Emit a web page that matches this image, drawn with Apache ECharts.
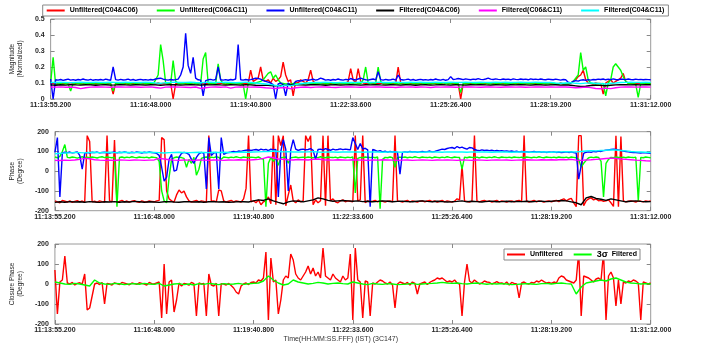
<!DOCTYPE html>
<html>
<head>
<meta charset="utf-8">
<script src="https://cdn.jsdelivr.net/npm/echarts@6/dist/echarts.min.js"></script>
<style>
html,body{margin:0;padding:0;background:#fff}
#main{width:707px;height:347px}
</style>
</head>
<body>
<div id="main"></div>
<script>
// x runs in sample steps of 4.32 s from 11:13:55.200 (0..240); filtered traces are sampled every 2 steps
var tickLabels = ['11:13:55.200', '11:16:48.000', '11:19:40.800', '11:22:33.600',
                  '11:25:26.400', '11:28:19.200', '11:31:12.000'];

// ---- magnitude, unfiltered (241 samples)
var magRed = [
  .095,.098,.092,.096,.1,.094,.098,.095,.092,.097,.095,.098,.094,.096,.1,.095,.092,.098,.095,.097,
  .1,.094,.098,.096,.095,.03,.1,.094,.098,.095,.096,.092,.098,.095,.1,.094,.096,.098,.095,.1,
  .096,.098,.094,.1,.095,.098,.096,.094,.1,0,.095,.098,.094,.1,.096,.098,.095,.092,.098,.095,
  .1,.094,.096,.098,.095,.1,.094,.096,.098,.095,.092,.098,.095,.1,.094,.096,.098,.095,.1,.096,
  .18,.11,.12,.13,.2,.12,.11,.12,.1,.13,.11,.12,.14,.23,.15,.11,.12,.02,.11,.1,
  .12,.11,.1,.12,.18,.11,.1,.095,.1,.098,.094,.1,.096,.098,.095,.1,.094,.096,.098,.11,
  .19,.12,.1,.19,.11,.1,.098,.094,.1,.096,.098,.095,.1,.094,.096,.098,.095,.1,.094,.2,
  .1,.096,.098,.094,.1,.095,.098,.096,.094,.1,.095,.098,.094,.1,.096,.098,.095,.092,.098,.095,
  .1,.094,.098,.096,0,.095,.1,.094,.098,.095,.096,.092,.098,.095,.1,.094,.096,.098,.095,.1,
  .096,.098,.094,.1,.095,.098,.096,.094,.1,.095,.098,.094,.1,.096,.098,.095,.092,.098,.095,.1,
  .094,.098,.096,.095,.1,.094,.098,.095,.1,.11,.12,.14,.15,.18,.12,.1,.098,.094,.1,.096,
  .098,.03,.1,.11,.12,.1,.11,.12,.13,.16,.11,.1,.098,.094,.1,.096,.098,.095,.1,.096,.098];
var magGreen = [
  .1,.26,.09,.095,.098,.092,.096,.094,.05,.097,.093,.098,.095,.092,.096,.099,.094,.097,.093,.096,
  .098,.094,.096,.093,.097,.05,.095,.098,.094,.096,.093,.097,.095,.092,.098,.094,.096,.093,.097,.095,
  .098,.094,.12,.15,.34,.24,.1,.096,.093,.24,.11,.098,.094,.096,.093,.097,.095,.092,.098,.094,
  .096,.25,.29,.1,.094,.097,.095,.22,.12,.096,.093,.098,.094,.096,.093,.097,.095,.092,0,.096,
  .095,.098,.1,.105,.11,.12,.14,.16,.17,.13,.15,.12,.1,.098,.094,.096,.093,.097,.095,.092,
  .098,.094,.096,.093,.097,.095,.098,.094,.096,.093,.097,.095,.092,.098,.094,.096,.093,.097,.095,.098,
  .094,.096,.093,.097,.095,.12,.2,.1,.096,.093,.098,.2,.11,.096,.093,.097,.095,.092,.098,.094,
  .096,.093,.097,.095,.092,.098,.094,.096,.093,.097,.095,.098,.094,.096,.093,.097,.095,.092,.098,.094,
  .096,.093,.097,.095,.04,.098,.094,.096,.093,.097,.095,.098,.094,.096,.093,.097,.095,.092,.098,.094,
  .096,.093,.097,.095,.098,.094,.096,.093,.097,.095,.092,.098,.094,.096,.093,.097,.095,.098,.094,.096,
  .093,.097,.095,.092,.098,.094,.096,.093,.1,.11,.13,.15,.29,.18,.2,.12,.1,.096,.093,.097,
  .095,.098,.02,.1,.12,.2,.22,.2,.18,.14,.11,.098,.094,.096,.093,.01,.095,.098,.094,.096,.095];
var magBlue = [
  .125,0,.12,.118,.122,.116,.12,.124,.118,.121,.117,.122,.119,.125,.12,.118,.123,.117,.121,.119,
  .122,.118,.124,.12,.117,.2,.121,.118,.123,.119,.12,.124,.118,.122,.116,.12,.123,.119,.121,.118,
  .122,.119,.125,.128,.13,.124,.12,.118,.122,.119,.121,.124,.15,.2,.41,.21,.16,.26,.13,.12,
  .118,.02,.115,.12,.123,.118,.122,.2,.12,.118,.121,.117,.122,.119,.125,.34,.12,.118,.122,.119,
  .121,.125,.13,.128,.124,.115,.11,.105,.1,.09,0,.095,.1,.09,.02,.1,.085,.09,.11,.115,
  .112,.118,.121,.117,.12,.124,.118,.122,.13,.125,.118,.121,.117,.122,.119,.125,.12,.118,.123,.12,
  .128,.122,.119,.125,.13,.124,.12,.118,.122,.125,.119,.17,.121,.118,.123,.119,.12,.124,.118,.15,
  .122,.119,.121,.124,.118,.122,.116,.12,.123,.119,.121,.118,.122,.119,.125,.12,.118,.123,.117,.121,
  .14,.122,.124,.128,.125,.121,.126,.123,.12,.124,.122,.127,.123,.121,.125,.13,.124,.122,.126,.123,
  .121,.125,.122,.124,.12,.126,.123,.121,.125,.122,.124,.12,.126,.122,.124,.121,.125,.122,.12,.124,
  .122,.12,.124,.121,.118,.122,.12,.105,.1,.11,.115,.112,.118,.12,.116,.121,.118,.122,.12,.124,
  .122,.125,.12,.124,.121,.126,.122,.12,.124,.123,.121,.125,.122,.12,.124,.121,.123,.12,.122,.121,.12];
// ---- magnitude, filtered (121 samples)
var magBlack = [
  .088,.086,.089,.087,.09,.088,.087,.089,.088,.086,.088,.089,.087,.088,.09,.088,.087,.089,.088,.087,
  .089,.088,.086,.088,.09,.089,.087,.088,.089,.088,.087,.089,.088,.09,.088,.087,.089,.088,.087,.089,
  .088,.086,.085,.087,.084,.082,.085,.088,.087,.089,.088,.087,.089,.09,.088,.086,.088,.089,.087,.088,
  .089,.088,.087,.089,.088,.09,.088,.087,.089,.088,.087,.089,.088,.086,.088,.089,.087,.088,.09,.088,
  .087,.089,.088,.087,.089,.088,.09,.088,.087,.089,.088,.087,.089,.088,.09,.088,.087,.089,.088,.087,
  .088,.089,.087,.088,.086,.082,.078,.08,.084,.086,.085,.083,.086,.088,.089,.09,.088,.089,.088,.09,.089];
var magMagenta = [
  .075,.074,.076,.073,.075,.072,.065,.07,.074,.076,.075,.074,.073,.076,.075,.074,.076,.075,.073,.074,
  .076,.072,.068,.074,.075,.076,.074,.073,.072,.075,.066,.07,.074,.075,.073,.076,.068,.074,.075,.076,
  .074,.075,.073,.07,.068,.066,.07,.072,.064,.07,.073,.075,.072,.074,.076,.075,.073,.072,.074,.075,
  .076,.074,.073,.075,.074,.076,.075,.073,.074,.072,.075,.074,.076,.073,.075,.074,.072,.075,.074,.076,
  .075,.073,.074,.076,.075,.074,.073,.075,.076,.074,.073,.075,.076,.074,.075,.073,.074,.076,.075,.074,
  .075,.074,.076,.075,.073,.07,.072,.074,.071,.066,.064,.068,.065,.07,.074,.076,.075,.074,.076,.075,.074];
var magCyan = [
  .104,.103,.105,.104,.102,.104,.105,.103,.104,.105,.104,.103,.105,.104,.103,.105,.104,.104,.103,.105,
  .104,.1,.098,.102,.104,.105,.103,.104,.105,.103,.102,.104,.105,.103,.104,.105,.104,.102,.104,.105,
  .103,.1,.097,.094,.09,.085,.08,.088,.082,.09,.095,.1,.102,.104,.103,.105,.104,.102,.104,.103,
  .104,.103,.105,.104,.103,.104,.105,.103,.104,.105,.104,.103,.105,.104,.105,.103,.104,.105,.104,.103,
  .105,.104,.103,.105,.104,.103,.105,.104,.103,.105,.104,.105,.103,.104,.105,.103,.104,.105,.104,.103,
  .104,.1,.098,.1,.102,.098,.096,.099,.1,.098,.096,.094,.098,.1,.103,.104,.105,.104,.103,.105,.104];

// ---- phase, unfiltered (241 samples)
var phRed = [
  -150,-155,-160,-148,-152,-156,-150,-158,-153,-149,-155,-151,-157,180,150,-155,-152,-158,-150,-154,
  -156,180,-150,-155,158,-160,-153,-148,-155,-151,-157,-152,-149,-155,-158,-150,-154,-156,-151,-153,
  -155,-150,-148,170,160,-100,-140,-150,-156,-120,-95,-110,-100,-130,-150,-156,-152,-148,-155,-150,
  -153,-157,180,-152,-150,-155,-95,-100,-150,-156,-152,-148,-155,-150,-153,-157,-140,-87,180,-155,
  -150,-160,-145,-170,-155,-150,-130,-165,180,-170,180,130,180,-175,-120,-70,-150,-160,-145,-155,
  -150,180,150,180,-170,-145,-160,-150,180,-175,180,-150,-140,-155,-160,-150,-145,-155,-150,-152,
  -155,180,-150,-145,180,-160,-150,-155,-152,-148,-155,-150,-153,-157,-152,-150,-155,180,-150,-153,
  -157,-152,-148,-155,-150,-153,-157,-152,-150,-155,-151,-148,-154,-150,-156,-152,-148,-155,-150,-153,
  -157,-152,-140,-145,30,-150,-153,-157,-152,180,-150,-155,-151,-148,-154,-150,-156,-152,-148,-155,
  -150,-153,-157,-152,-150,-155,-151,-148,-154,180,-150,-156,-152,-148,-155,-150,-153,-157,-152,-150,
  -155,-151,-148,-154,-145,-140,-150,-142,-138,-160,-180,180,180,-175,-150,-140,-135,-145,-140,-150,
  -148,-152,-150,-145,-160,-178,180,-180,175,-150,-155,-152,-150,-153,-156,-150,-152,-155,-150,-153,-150];
var phGreen = [
  72,68,75,100,135,70,68,72,70,66,70,73,69,71,68,72,70,67,71,73,
  69,72,70,68,71,-180,70,72,68,71,69,73,70,68,72,70,69,71,67,72,
  70,68,50,-100,-150,-160,-30,60,68,72,70,69,65,20,60,40,70,-20,10,65,
  70,72,68,71,69,73,70,60,72,70,68,71,69,73,70,68,72,70,69,71,
  70,68,72,65,60,-180,40,70,50,65,30,68,70,72,40,68,70,72,68,70,
  71,69,72,70,68,71,69,73,70,68,72,70,69,71,67,72,70,68,71,69,
  72,-110,65,70,68,72,70,69,71,68,72,-190,60,70,68,72,69,20,68,71,
  70,72,68,71,69,73,70,68,72,70,69,71,67,72,70,68,71,69,73,70,
  68,72,70,69,10,71,68,72,70,69,71,67,72,70,68,71,69,73,70,68,
  72,70,69,71,68,72,70,69,71,67,72,70,68,71,69,73,70,68,72,70,
  69,71,68,72,70,69,71,67,72,70,68,60,20,40,55,68,71,69,72,70,
  50,-130,40,60,70,68,72,70,69,71,68,72,70,69,71,-150,70,68,72,70,68];
var phBlue = [
  95,170,-130,92,96,94,97,93,95,98,80,10,90,95,92,96,94,97,93,95,
  96,94,92,95,97,93,96,94,98,95,93,96,94,97,95,92,96,94,97,95,
  93,90,80,20,-50,-30,60,85,0,5,70,90,95,92,85,60,40,70,88,95,
  90,-90,170,80,92,95,-90,170,85,92,95,97,100,98,102,100,104,106,108,105,
  108,110,106,112,108,110,104,112,108,110,-130,100,160,110,-100,108,160,112,105,110,
  112,108,110,114,106,60,110,112,108,114,110,106,112,108,110,113,109,112,110,108,
  170,140,110,140,112,116,108,-180,110,106,100,104,98,102,96,100,97,99,95,-15,
  95,98,96,100,97,99,96,98,100,97,99,102,98,100,104,108,112,110,115,118,
  120,115,125,118,122,116,112,120,118,110,106,104,108,105,107,104,106,103,105,102,
  104,101,103,100,102,99,101,98,100,97,99,96,98,100,97,99,96,98,95,97,
  96,98,95,97,94,96,98,95,97,94,92,-40,30,90,96,98,95,100,98,102,
  100,104,106,108,110,112,110,108,105,102,100,98,96,95,94,93,92,94,93,92,90];
// ---- phase, filtered (121 samples)
var phBlack = [
  -158,-155,-157,-154,-156,-155,-157,-154,-156,-158,-155,-156,-154,-157,-155,-156,-153,-155,-157,-155,
  -156,-158,-155,-154,-156,-157,-155,-154,-156,-155,-157,-155,-154,-156,-155,-157,-156,-154,-155,-156,
  -150,-145,-148,-140,-150,-158,-165,-155,-150,-152,-155,-150,-145,-135,-140,-148,-152,-150,-148,-150,
  -152,-150,-154,-152,-155,-153,-150,-152,-155,-153,-152,-154,-155,-152,-150,-153,-155,-152,-154,-156,
  -155,-153,-150,-155,-152,-154,-156,-153,-152,-155,-154,-152,-155,-153,-154,-152,-155,-153,-152,-154,
  -152,-150,-148,-150,-155,-160,-170,-135,-128,-138,-142,-148,-140,-145,-150,-155,-152,-150,-153,-155,-154];
var phMagenta = [
  55,54,56,55,57,60,65,63,58,56,55,56,54,57,56,55,57,56,55,56,
  57,65,62,58,56,55,57,56,55,57,56,55,57,56,55,57,56,58,57,56,
  58,60,65,72,68,62,60,58,57,59,58,57,60,62,58,57,56,58,57,56,
  58,57,56,55,57,56,58,57,56,55,56,57,55,56,57,56,55,57,56,57,
  56,55,57,56,55,57,56,55,56,57,56,57,55,56,57,58,57,56,58,57,
  58,57,59,58,60,56,55,57,58,60,62,64,66,65,62,60,58,56,55,53,52];
var phCyan = [
  88,90,92,93,95,94,93,95,96,94,95,96,94,95,96,95,94,96,95,96,
  95,94,92,94,95,96,95,94,95,96,95,94,96,95,96,95,94,96,97,96,
  97,98,99,100,102,100,98,99,97,98,97,98,99,97,96,98,97,96,97,98,
  97,98,96,97,98,97,96,97,98,97,96,97,98,97,96,97,98,97,96,98,
  97,98,97,96,98,97,98,97,96,97,98,97,96,97,98,97,96,97,98,97,
  96,97,98,99,97,98,100,102,104,103,105,106,108,107,105,103,100,98,97,96,95];

// ---- closure phase: unfiltered (241 samples), 3-sigma filtered (121 samples)
var cpRed = [
  70,-150,10,20,140,5,0,8,-5,3,6,0,50,-130,-120,-60,0,5,-3,8,
  -100,3,0,-5,6,2,-3,8,4,0,-4,5,2,-2,6,3,0,-5,8,2,
  0,5,10,-170,100,-150,10,20,-140,-80,5,-10,3,0,-6,8,2,-160,5,0,
  3,-160,50,-5,-10,4,-160,2,0,-5,3,-8,-20,-40,-50,-10,0,5,-3,8,
  10,5,20,15,30,160,-180,130,10,20,-150,-80,20,40,30,150,120,50,30,20,
  40,60,90,50,80,40,60,30,180,40,30,20,50,30,20,10,40,20,30,150,
  -180,180,20,10,-170,15,10,-160,5,0,10,20,15,5,0,10,-5,-120,0,10,
  5,0,8,-5,10,3,-50,0,5,10,-3,8,15,20,30,25,30,20,10,15,
  10,20,5,0,-160,10,100,15,5,20,10,0,5,15,10,8,0,5,12,4,
  5,0,10,-5,8,3,0,-70,5,10,2,0,8,5,15,10,20,12,5,8,
  3,10,5,30,40,35,20,15,10,5,20,160,-160,40,35,30,20,10,25,30,
  20,160,-180,40,60,30,-110,20,-100,10,5,15,10,20,15,5,-180,10,5,0,5];
var cpGreen = [
  10,5,0,-2,3,0,-5,-10,20,5,0,-2,3,1,-3,0,2,-1,3,0,
  -2,3,-10,-5,0,2,-3,0,-5,2,-2,3,0,-3,2,-1,0,3,-2,1,
  3,5,15,40,20,5,-5,0,20,10,5,0,3,8,5,0,3,5,2,0,
  10,5,0,-3,3,0,-2,2,0,-3,-2,0,3,-2,0,2,3,5,8,5,
  3,5,2,0,3,5,2,-1,2,0,2,0,-3,-2,0,2,0,-2,2,3,
  0,3,5,2,0,-50,-15,5,10,15,20,15,25,30,20,10,5,3,0,2,0];

var baselineNames = ['Unfiltered(C04&C06)', 'Unfiltered(C06&C11)', 'Unfiltered(C04&C11)',
                     'Filtered(C04&C06)', 'Filtered(C06&C11)', 'Filtered(C04&C11)'];
var baselineColors = ['#ff0000', '#00ff00', '#0000ff', '#000000', '#ff00ff', '#00ffff'];
var closureNames = ['Unfiltered', '3\u03c3  Filtered'];
var closureColors = ['#ff0000', '#00ff00'];

var font = 'Liberation Sans, Arial, sans-serif';
var tickStyle = {color: '#262626', fontSize: 7, fontWeight: 'bold', fontFamily: font};

var chart = echarts.init(document.getElementById('main'));

var grids = [
  {left: 46.7, right: 56.3, top: 19, height: 80},
  {left: 46.7, right: 56.3, top: 131.7, height: 79},
  {left: 46.7, right: 56.3, top: 244, height: 80}
];
grids.forEach(function (g) { g.show = true; g.borderColor = '#9a9a9a'; g.borderWidth = 1; });

var yRanges = [[0, 0.5, 0.1], [-200, 200, 100], [-200, 200, 100]];
var yNames = ['Magnitude\n(Normalized)', 'Phase\n(Degree)', 'Closure Phase\n(Degree)'];
var yGaps = [20, 23, 23];

var xAxes = [], yAxes = [];
for (var k = 0; k < 3; k++) {
  xAxes.push({
    type: 'value', gridIndex: k, min: 0, max: 240, interval: 40,
    axisLine: {show: false, onZero: false},
    axisTick: {inside: true, length: 4, lineStyle: {color: '#888'}},
    axisLabel: Object.assign({margin: 3, formatter: function (v) { return tickLabels[Math.round(v / 40)]; }}, tickStyle),
    splitLine: {show: false},
    name: k === 2 ? 'Time(HH:MM:SS.FFF) (IST) (3C147)' : '',
    nameLocation: 'middle', nameGap: 12,
    nameTextStyle: {fontSize: 7, color: '#333', fontFamily: font, padding: [0, 24, 0, 0]}
  });
  xAxes.push({
    type: 'value', gridIndex: k, position: 'top', min: 0, max: 240, interval: 40,
    axisLine: {show: false, onZero: false},
    axisTick: {inside: true, length: 4, lineStyle: {color: '#888'}},
    axisLabel: {show: false}, splitLine: {show: false}
  });
  yAxes.push({
    type: 'value', gridIndex: k, min: yRanges[k][0], max: yRanges[k][1], interval: yRanges[k][2],
    axisLine: {show: false, onZero: false},
    axisTick: {show: true, inside: true, length: 4, lineStyle: {color: '#888'}},
    axisLabel: Object.assign({margin: 6}, tickStyle),
    splitLine: {show: false},
    name: yNames[k], nameLocation: 'middle', nameGap: yGaps[k],
    nameTextStyle: {fontSize: 6.5, color: '#222', fontFamily: font, lineHeight: 8}
  });
  yAxes.push({
    type: 'value', gridIndex: k, position: 'right', min: yRanges[k][0], max: yRanges[k][1], interval: yRanges[k][2],
    axisLine: {show: false, onZero: false},
    axisTick: {show: true, inside: true, length: 4, lineStyle: {color: '#888'}},
    axisLabel: {show: false}, splitLine: {show: false}
  });
}

function line(name, color, values, step, k) {
  return {
    name: name, type: 'line', xAxisIndex: 2 * k, yAxisIndex: 2 * k,
    data: values.map(function (v, i) { return [i * step, v]; }),
    symbol: 'none', showSymbol: false, color: color,
    lineStyle: {width: 1.4, color: color}, emphasis: {disabled: true}
  };
}

var series = [];
[magRed, magGreen, magBlue].forEach(function (d, j) { series.push(line(baselineNames[j], baselineColors[j], d, 1, 0)); });
[magBlack, magMagenta, magCyan].forEach(function (d, j) { series.push(line(baselineNames[j + 3], baselineColors[j + 3], d, 2, 0)); });
[phRed, phGreen, phBlue].forEach(function (d, j) { series.push(line(baselineNames[j], baselineColors[j], d, 1, 1)); });
[phBlack, phMagenta, phCyan].forEach(function (d, j) { series.push(line(baselineNames[j + 3], baselineColors[j + 3], d, 2, 1)); });
series.push(line(closureNames[0], closureColors[0], cpRed, 1, 2));
series.push(line(closureNames[1], closureColors[1], cpGreen, 2, 2));

var legendText = {fontSize: 7, fontWeight: 'bold', color: '#000', fontFamily: font};
var closureLegendText = Object.assign({
  rich: {sig: {fontSize: 9, fontWeight: 'bold', color: '#000', fontFamily: font}}
}, legendText);

var option = {
  animation: false,
  backgroundColor: '#fff',
  grid: grids,
  xAxis: xAxes,
  yAxis: yAxes,
  legend: [
    {data: baselineNames, left: 42.7, top: 5, icon: 'rect', itemWidth: 18, itemHeight: 2, itemGap: 19,
     padding: [2, 4], borderColor: '#888', borderWidth: 1, textStyle: legendText, selectedMode: false},
    {data: closureNames, left: 504, top: 249, icon: 'rect', itemWidth: 18, itemHeight: 2, itemGap: 11,
     padding: [1, 3], borderColor: '#888', borderWidth: 1, backgroundColor: '#fff', textStyle: closureLegendText,
     selectedMode: false,
     formatter: function (name) { return name === closureNames[1] ? '{sig|3\u03c3}  Filtered' : name; }}
  ],
  series: series
};
option && chart.setOption(option);
</script>
</body>
</html>
